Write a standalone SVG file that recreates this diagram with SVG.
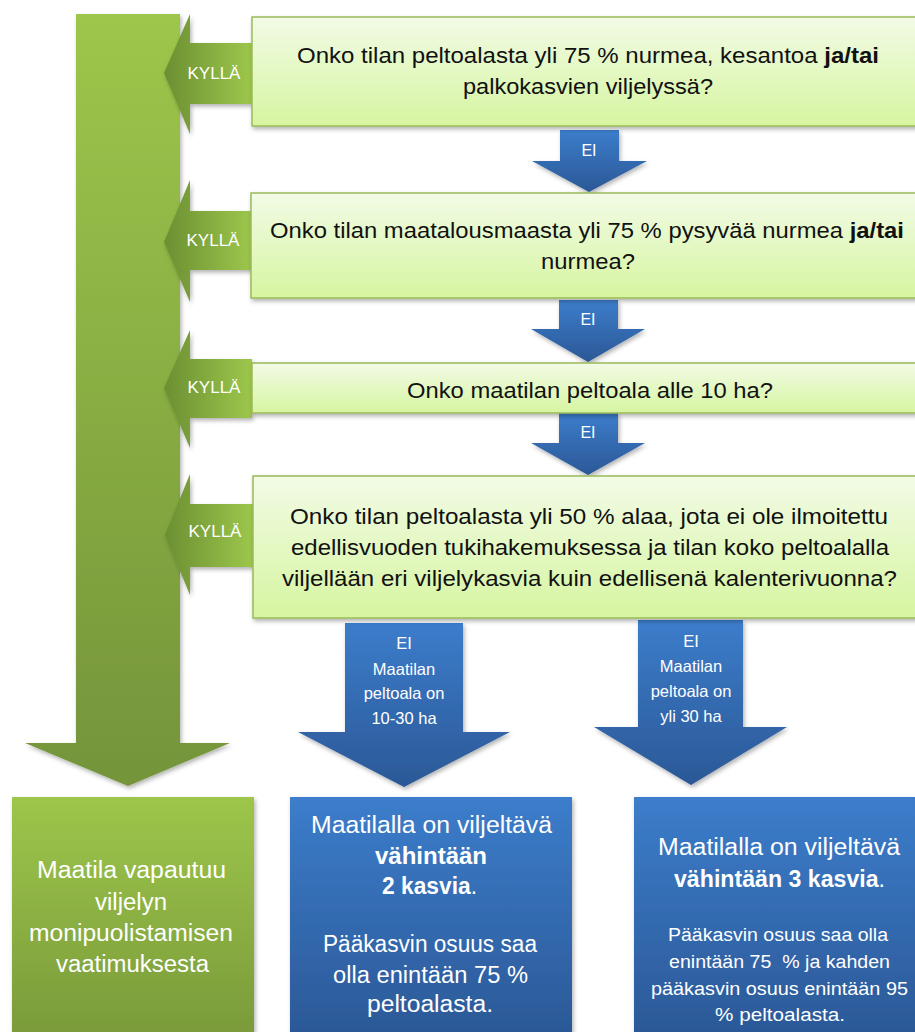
<svg xmlns="http://www.w3.org/2000/svg" width="915" height="1032" viewBox="0 0 915 1032">
<defs>
<linearGradient id="gQ" x1="0" y1="0" x2="0" y2="1"><stop offset="0" stop-color="#f2fbe6"/><stop offset="1" stop-color="#d6f5a0"/></linearGradient>
<linearGradient id="gBar" x1="0" y1="0" x2="0" y2="1"><stop offset="0" stop-color="#9dc64b"/><stop offset="1" stop-color="#74943a"/></linearGradient>
<linearGradient id="gKy" x1="0" y1="0" x2="1" y2="0"><stop offset="0" stop-color="#6b8f32"/><stop offset="1" stop-color="#9dc74c"/></linearGradient>
<linearGradient id="gBlue" x1="0" y1="0" x2="0" y2="1"><stop offset="0" stop-color="#3c7dcb"/><stop offset="1" stop-color="#2b5896"/></linearGradient>
<linearGradient id="gGreenBox" x1="0" y1="0" x2="0" y2="1"><stop offset="0" stop-color="#9dc64b"/><stop offset="1" stop-color="#7a9a3a"/></linearGradient>
<filter id="sh" x="-10%" y="-10%" width="125%" height="130%"><feDropShadow dx="1.5" dy="2.5" stdDeviation="2" flood-color="#000" flood-opacity="0.3"/></filter>
<style>
.q{fill:url(#gQ);stroke:#9bbb59;stroke-width:1.5}
.qt{font-family:"Liberation Sans",Arial,sans-serif;font-size:22px;fill:#111;text-anchor:middle}
.kt{font-family:"Liberation Sans",Arial,sans-serif;font-size:17px;fill:#fff;text-anchor:middle}
.et{font-family:"Liberation Sans",Arial,sans-serif;font-size:16px;fill:#fff;text-anchor:middle}
.lt{font-family:"Liberation Sans",Arial,sans-serif;font-size:16.5px;fill:#fff;text-anchor:middle}
.bt{font-family:"Liberation Sans",Arial,sans-serif;font-size:23px;fill:#fff;text-anchor:middle}
.st{font-family:"Liberation Sans",Arial,sans-serif;font-size:18px;fill:#fff;text-anchor:middle;white-space:pre}
.ky{fill:url(#gKy)}
.blue{fill:url(#gBlue)}
.b{font-weight:bold}
</style>
</defs>
<rect width="915" height="1032" fill="#fff"/>
<g id="connectors">
  <path id="yes-main" filter="url(#sh)" fill="url(#gBar)" d="M76,14 H180 V743 H230 L128,786 L25,743 H76 Z"/>
  <path class="ky" filter="url(#sh)" d="M252,43 H190 V14 L164,73 L190,134 V104 H252 Z"/>
  <path class="ky" filter="url(#sh)" d="M252,211 H190 V180 L164,242 L190,302 V270 H252 Z"/>
  <path class="ky" filter="url(#sh)" d="M252,359 H190 V330 L164,388 L190,448 V418 H252 Z"/>
  <path class="ky" filter="url(#sh)" d="M253,504 H190 V474 L165,535 L190,595 V567 H253 Z"/>
  <text class="kt" x="214" y="79">KYLLÄ</text>
  <text class="kt" x="213" y="246">KYLLÄ</text>
  <text class="kt" x="214" y="393">KYLLÄ</text>
  <text class="kt" x="215" y="537">KYLLÄ</text>
  <path class="blue" filter="url(#sh)" d="M560,130 H619 V161 H647 L589,192 L532,161 H560 Z"/>
  <path class="blue" filter="url(#sh)" d="M559,300 H618 V329 H645 L588,362 L531,329 H559 Z"/>
  <path class="blue" filter="url(#sh)" d="M559,413 H618 V443 H645 L588,475 L531,443 H559 Z"/>
  <text class="et" x="589" y="156">EI</text>
  <text class="et" x="588" y="325">EI</text>
  <text class="et" x="588" y="438">EI</text>
  <path class="blue" filter="url(#sh)" d="M345,623 H463 V732 H510 L404,787 L298,732 H345 Z"/>
  <path class="blue" filter="url(#sh)" d="M638,620 H743 V727 H787 L691,785 L594,727 H638 Z"/>
  <text class="lt" x="404" y="649">EI</text>
  <text class="lt" x="404" y="675">Maatilan</text>
  <text class="lt" x="404" y="699">peltoala on</text>
  <text class="lt" x="404" y="724">10-30 ha</text>
  <text class="lt" x="691" y="647">EI</text>
  <text class="lt" x="691" y="672">Maatilan</text>
  <text class="lt" x="691" y="697">peltoala on</text>
  <text class="lt" x="691" y="722">yli 30 ha</text>
</g>
<g id="q1">
  <rect class="q" filter="url(#sh)" x="252" y="17" width="670" height="109"/>
  <text class="qt" x="588" y="63" textLength="582" lengthAdjust="spacingAndGlyphs">Onko tilan peltoalasta yli 75 % nurmea, kesantoa <tspan class="b">ja/tai</tspan></text>
  <text class="qt" x="588" y="94" textLength="250" lengthAdjust="spacingAndGlyphs">palkokasvien viljelyssä?</text>
</g>
<g id="q2">
  <rect class="q" filter="url(#sh)" x="251" y="193" width="671" height="105"/>
  <text class="qt" x="587" y="238" textLength="634" lengthAdjust="spacingAndGlyphs">Onko tilan maatalousmaasta yli 75 % pysyvää nurmea <tspan class="b">ja/tai</tspan></text>
  <text class="qt" x="588" y="269" textLength="94" lengthAdjust="spacingAndGlyphs">nurmea?</text>
</g>
<g id="q3">
  <rect class="q" filter="url(#sh)" x="252" y="363" width="670" height="50"/>
  <text class="qt" x="590" y="398" textLength="366" lengthAdjust="spacingAndGlyphs">Onko maatilan peltoala alle 10 ha?</text>
</g>
<g id="q4">
  <rect class="q" filter="url(#sh)" x="253" y="476" width="669" height="142"/>
  <text class="qt" x="589" y="524" textLength="598" lengthAdjust="spacingAndGlyphs">Onko tilan peltoalasta yli 50 % alaa, jota ei ole ilmoitettu</text>
  <text class="qt" x="590" y="555" textLength="598" lengthAdjust="spacingAndGlyphs">edellisvuoden tukihakemuksessa ja tilan koko peltoalalla</text>
  <text class="qt" x="589.5" y="586" textLength="615" lengthAdjust="spacingAndGlyphs">viljellään eri viljelykasvia kuin edellisenä kalenterivuonna?</text>
</g>
<g id="result-exempt">
  <rect filter="url(#sh)" fill="url(#gGreenBox)" x="12" y="797" width="242" height="240"/>
  <text class="bt" x="131.5" y="878" textLength="189" lengthAdjust="spacingAndGlyphs">Maatila vapautuu</text>
  <text class="bt" x="131" y="910" textLength="72" lengthAdjust="spacingAndGlyphs">viljelyn</text>
  <text class="bt" x="131" y="941" textLength="204" lengthAdjust="spacingAndGlyphs">monipuolistamisen</text>
  <text class="bt" x="132.5" y="972" textLength="153" lengthAdjust="spacingAndGlyphs">vaatimuksesta</text>
</g>
<g id="result-2">
  <rect filter="url(#sh)" fill="url(#gBlue)" x="290" y="797" width="282" height="240"/>
  <text class="bt" x="431.5" y="833" textLength="241" lengthAdjust="spacingAndGlyphs">Maatilalla on viljeltävä</text>
  <text class="bt b" x="431" y="864" textLength="112" lengthAdjust="spacingAndGlyphs">vähintään</text>
  <text class="bt" x="429.5" y="894" textLength="95" lengthAdjust="spacingAndGlyphs"><tspan class="b">2 kasvia</tspan>.</text>
  <text class="bt" x="430" y="952" textLength="214" lengthAdjust="spacingAndGlyphs">Pääkasvin osuus saa</text>
  <text class="bt" x="430.5" y="983" textLength="195" lengthAdjust="spacingAndGlyphs">olla enintään 75 %</text>
  <text class="bt" x="430" y="1012" textLength="126" lengthAdjust="spacingAndGlyphs">peltoalasta.</text>
</g>
<g id="result-3">
  <rect filter="url(#sh)" fill="url(#gBlue)" x="634" y="797" width="290" height="240"/>
  <text class="bt" x="779" y="855" textLength="242" lengthAdjust="spacingAndGlyphs">Maatilalla on viljeltävä</text>
  <text class="bt" x="779.5" y="887" textLength="211" lengthAdjust="spacingAndGlyphs"><tspan class="b">vähintään 3 kasvia</tspan>.</text>
  <text class="st" x="778" y="941" textLength="220" lengthAdjust="spacingAndGlyphs">Pääkasvin osuus saa olla</text>
  <text class="st" x="779.5" y="968" textLength="221" lengthAdjust="spacingAndGlyphs">enintään 75  % ja kahden</text>
  <text class="st" x="779.5" y="995" textLength="257" lengthAdjust="spacingAndGlyphs">pääkasvin osuus enintään 95</text>
  <text class="st" x="780" y="1021" textLength="130" lengthAdjust="spacingAndGlyphs">% peltoalasta.</text>
</g>
</svg>
